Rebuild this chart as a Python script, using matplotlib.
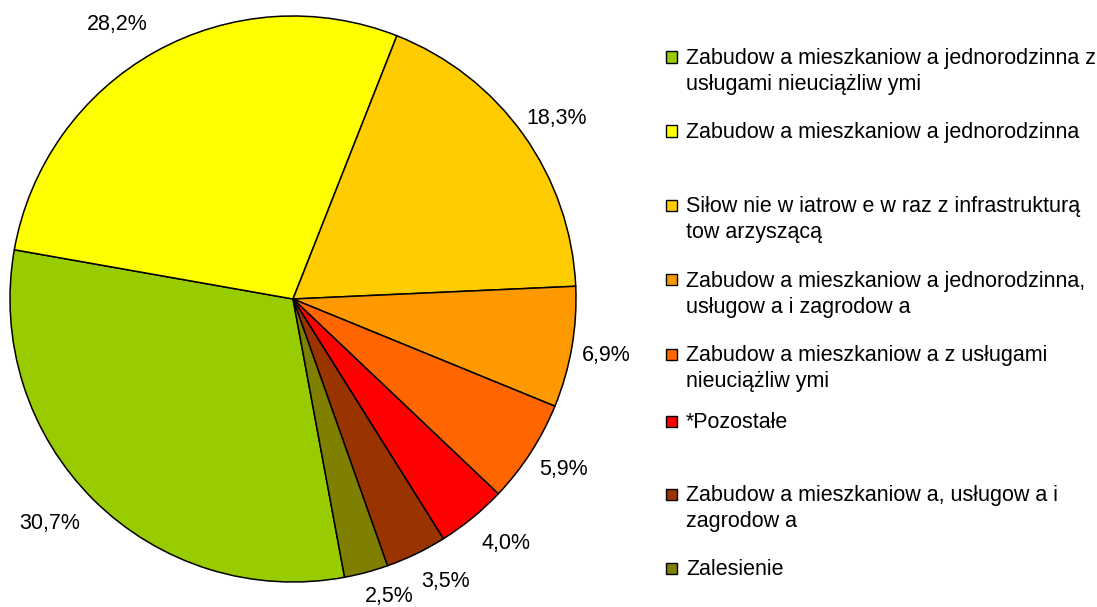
import matplotlib
matplotlib.use("Agg")
import numpy as np
import matplotlib.pyplot as plt
from matplotlib.patches import Rectangle

plt.rcParams['font.family'] = ['Liberation Sans', 'DejaVu Sans']

categories = [
    "Zabudow a mieszkaniow a jednorodzinna z\nusługami nieuciążliw ymi",
    "Zabudow a mieszkaniow a jednorodzinna",
    "Siłow nie w iatrow e w raz z infrastrukturą\ntow arzyszącą",
    "Zabudow a mieszkaniow a jednorodzinna,\nusługow a i zagrodow a",
    "Zabudow a mieszkaniow a z usługami\nnieuciążliw ymi",
    "*Pozostałe",
    "Zabudow a mieszkaniow a, usługow a i\nzagrodow a",
    "Zalesienie",
]
shares = [30.7, 28.2, 18.3, 6.9, 5.9, 4.0, 3.5, 2.5]
colors = ["#99CC00", "#FFFF00", "#FFCC00", "#FF9900",
          "#FF6600", "#FF0000", "#993300", "#808000"]
pct_labels = [f"{v:.1f}".replace(".", ",") + "%" for v in shares]

# percentage label placement: radial distance (pie radii) and angular nudge (deg)
label_dist = [1.17, 1.15, 1.13, 1.125, 1.13, 1.145, 1.135, 1.105]
label_nudge = [-2.6, 3.4, -1.1, -0.3, 0.7, 1.7, 2.6, 3.0]

W, H = 1097, 607
fig = plt.figure(figsize=(W / 100, H / 100), dpi=100)

cx, cy, r = 293, 308, 283
ax = fig.add_axes([(cx - r) / W, (cy - r) / H, 2 * r / W, 2 * r / H])
wedges, _ = ax.pie(
    shares, colors=colors, startangle=-79.5, counterclock=False,
    wedgeprops=dict(edgecolor="black", linewidth=1.1),
)
for w, lab, d, nudge in zip(wedges, pct_labels, label_dist, label_nudge):
    ang = np.deg2rad((w.theta1 + w.theta2) / 2 + nudge)
    ax.text(d * np.cos(ang), d * np.sin(ang), lab, ha="center", va="center",
            fontsize=15.5, color="black")
ax.set_xlim(-1, 1)
ax.set_ylim(-1, 1)
ax.set_aspect("equal")
ax.axis("off")

# legend entries
entry_y = [57, 131, 205, 280, 354, 421, 494, 568]
sq = 11
line_step = 26
for lab, col, y in zip(categories, colors, entry_y):
    fig.patches.append(Rectangle((666 / W, (H - y - sq / 2) / H), sq / W, sq / H,
                                 transform=fig.transFigure, facecolor=col,
                                 edgecolor="black", linewidth=1.0))
    for i, line in enumerate(lab.split("\n")):
        base = y + 7 + i * line_step
        fig.text(686 / W, (H - base) / H, line, ha="left", va="baseline",
                 fontsize=15.5, color="black")

fig.savefig("out.png", dpi=100)
